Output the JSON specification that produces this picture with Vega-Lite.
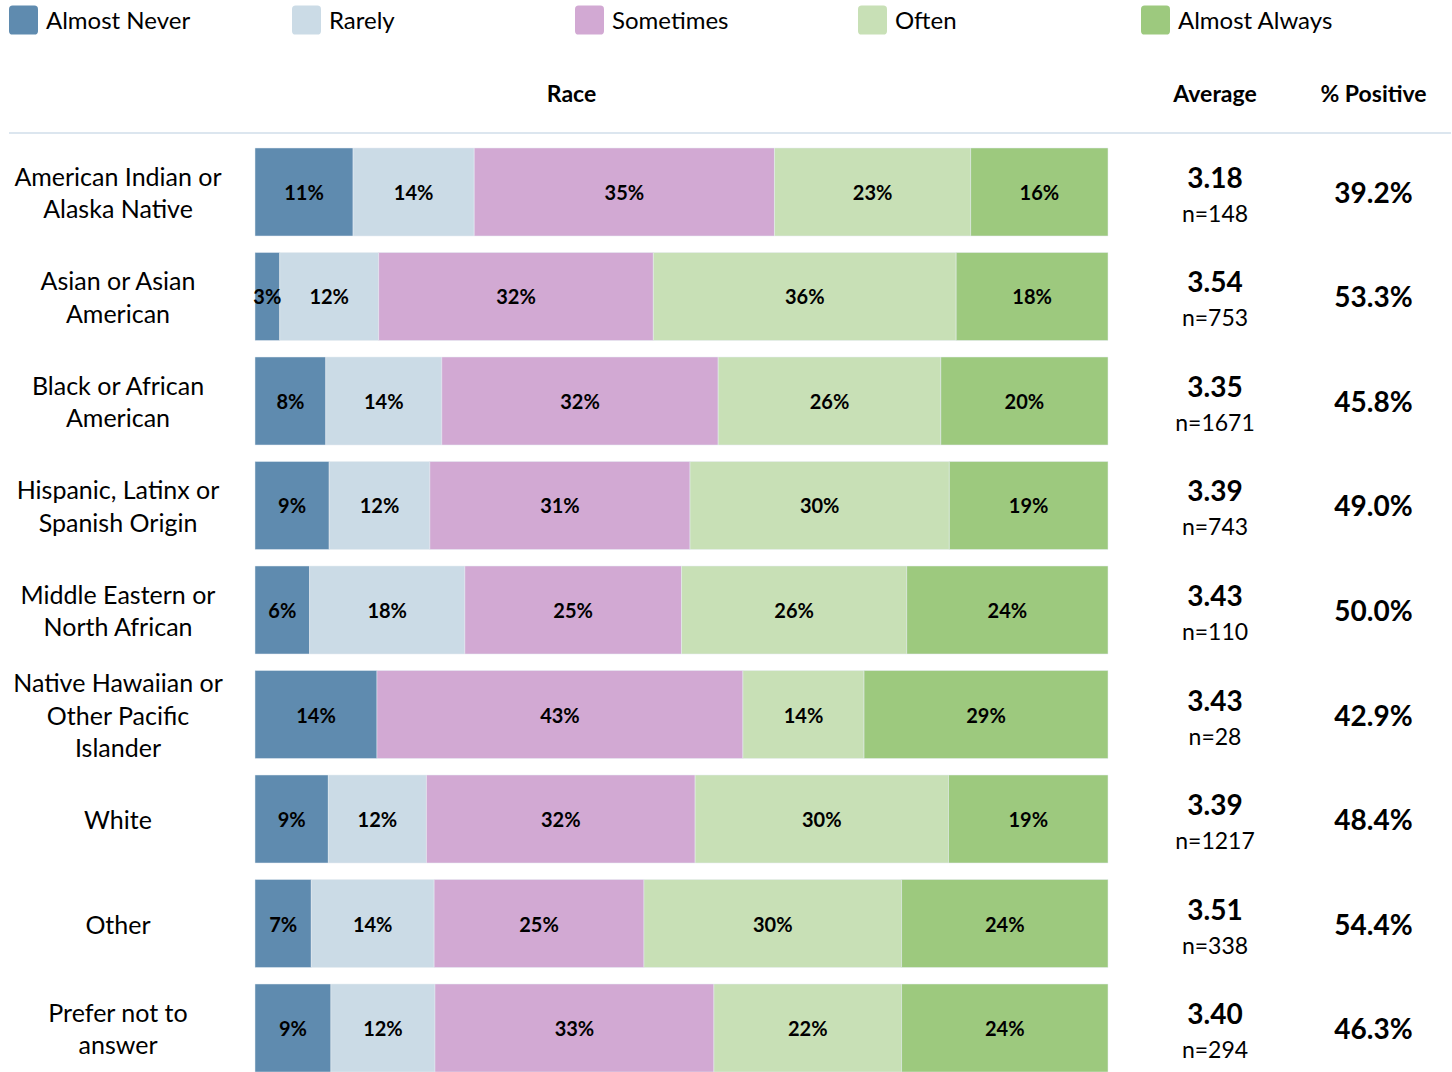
{
  "$schema": "https://vega.github.io/schema/vega-lite/v6.json",
  "padding": {"left": 8, "top": 0, "right": 0, "bottom": 0},
  "background": "white",
  "config": {
    "font": "Lato",
    "view": {"stroke": null},
    "title": {"fontSize": 23, "fontWeight": "bold", "color": "#000000", "offset": 25, "font": "Lato"},
    "text": {"font": "Lato", "color": "#000000"}
  },
  "datasets": {
    "categories": [
      {"response": "Almost Never"},
      {"response": "Rarely"},
      {"response": "Sometimes"},
      {"response": "Often"},
      {"response": "Almost Always"}
    ],
    "responses": [
      {"race": "American Indian or Alaska Native", "response": "Almost Never", "rank": 1, "pct": 11.5, "label": "11%"},
      {"race": "American Indian or Alaska Native", "response": "Rarely", "rank": 2, "pct": 14.2, "label": "14%"},
      {"race": "American Indian or Alaska Native", "response": "Sometimes", "rank": 3, "pct": 35.2, "label": "35%"},
      {"race": "American Indian or Alaska Native", "response": "Often", "rank": 4, "pct": 23.0, "label": "23%"},
      {"race": "American Indian or Alaska Native", "response": "Almost Always", "rank": 5, "pct": 16.1, "label": "16%"},
      {"race": "Asian or Asian American", "response": "Almost Never", "rank": 1, "pct": 2.9, "label": "3%"},
      {"race": "Asian or Asian American", "response": "Rarely", "rank": 2, "pct": 11.6, "label": "12%"},
      {"race": "Asian or Asian American", "response": "Sometimes", "rank": 3, "pct": 32.2, "label": "32%"},
      {"race": "Asian or Asian American", "response": "Often", "rank": 4, "pct": 35.5, "label": "36%"},
      {"race": "Asian or Asian American", "response": "Almost Always", "rank": 5, "pct": 17.8, "label": "18%"},
      {"race": "Black or African American", "response": "Almost Never", "rank": 1, "pct": 8.3, "label": "8%"},
      {"race": "Black or African American", "response": "Rarely", "rank": 2, "pct": 13.6, "label": "14%"},
      {"race": "Black or African American", "response": "Sometimes", "rank": 3, "pct": 32.4, "label": "32%"},
      {"race": "Black or African American", "response": "Often", "rank": 4, "pct": 26.1, "label": "26%"},
      {"race": "Black or African American", "response": "Almost Always", "rank": 5, "pct": 19.6, "label": "20%"},
      {"race": "Hispanic, Latinx or Spanish Origin", "response": "Almost Never", "rank": 1, "pct": 8.7, "label": "9%"},
      {"race": "Hispanic, Latinx or Spanish Origin", "response": "Rarely", "rank": 2, "pct": 11.8, "label": "12%"},
      {"race": "Hispanic, Latinx or Spanish Origin", "response": "Sometimes", "rank": 3, "pct": 30.5, "label": "31%"},
      {"race": "Hispanic, Latinx or Spanish Origin", "response": "Often", "rank": 4, "pct": 30.4, "label": "30%"},
      {"race": "Hispanic, Latinx or Spanish Origin", "response": "Almost Always", "rank": 5, "pct": 18.6, "label": "19%"},
      {"race": "Middle Eastern or North African", "response": "Almost Never", "rank": 1, "pct": 6.4, "label": "6%"},
      {"race": "Middle Eastern or North African", "response": "Rarely", "rank": 2, "pct": 18.2, "label": "18%"},
      {"race": "Middle Eastern or North African", "response": "Sometimes", "rank": 3, "pct": 25.4, "label": "25%"},
      {"race": "Middle Eastern or North African", "response": "Often", "rank": 4, "pct": 26.4, "label": "26%"},
      {"race": "Middle Eastern or North African", "response": "Almost Always", "rank": 5, "pct": 23.6, "label": "24%"},
      {"race": "Native Hawaiian or Other Pacific Islander", "response": "Almost Never", "rank": 1, "pct": 14.3, "label": "14%"},
      {"race": "Native Hawaiian or Other Pacific Islander", "response": "Sometimes", "rank": 3, "pct": 42.9, "label": "43%"},
      {"race": "Native Hawaiian or Other Pacific Islander", "response": "Often", "rank": 4, "pct": 14.2, "label": "14%"},
      {"race": "Native Hawaiian or Other Pacific Islander", "response": "Almost Always", "rank": 5, "pct": 28.6, "label": "29%"},
      {"race": "White", "response": "Almost Never", "rank": 1, "pct": 8.6, "label": "9%"},
      {"race": "White", "response": "Rarely", "rank": 2, "pct": 11.5, "label": "12%"},
      {"race": "White", "response": "Sometimes", "rank": 3, "pct": 31.5, "label": "32%"},
      {"race": "White", "response": "Often", "rank": 4, "pct": 29.7, "label": "30%"},
      {"race": "White", "response": "Almost Always", "rank": 5, "pct": 18.7, "label": "19%"},
      {"race": "Other", "response": "Almost Never", "rank": 1, "pct": 6.6, "label": "7%"},
      {"race": "Other", "response": "Rarely", "rank": 2, "pct": 14.4, "label": "14%"},
      {"race": "Other", "response": "Sometimes", "rank": 3, "pct": 24.6, "label": "25%"},
      {"race": "Other", "response": "Often", "rank": 4, "pct": 30.2, "label": "30%"},
      {"race": "Other", "response": "Almost Always", "rank": 5, "pct": 24.2, "label": "24%"},
      {"race": "Prefer not to answer", "response": "Almost Never", "rank": 1, "pct": 8.9, "label": "9%"},
      {"race": "Prefer not to answer", "response": "Rarely", "rank": 2, "pct": 12.2, "label": "12%"},
      {"race": "Prefer not to answer", "response": "Sometimes", "rank": 3, "pct": 32.7, "label": "33%"},
      {"race": "Prefer not to answer", "response": "Often", "rank": 4, "pct": 22.0, "label": "22%"},
      {"race": "Prefer not to answer", "response": "Almost Always", "rank": 5, "pct": 24.2, "label": "24%"}
    ],
    "summary": [
      {"race": "American Indian or Alaska Native", "lines": ["American Indian or", "Alaska Native"], "avg": 3.18, "nText": "n=148", "positive": 0.392},
      {"race": "Asian or Asian American", "lines": ["Asian or Asian", "American"], "avg": 3.54, "nText": "n=753", "positive": 0.533},
      {"race": "Black or African American", "lines": ["Black or African", "American"], "avg": 3.35, "nText": "n=1671", "positive": 0.458},
      {"race": "Hispanic, Latinx or Spanish Origin", "lines": ["Hispanic, Latinx or", "Spanish Origin"], "avg": 3.39, "nText": "n=743", "positive": 0.49},
      {"race": "Middle Eastern or North African", "lines": ["Middle Eastern or", "North African"], "avg": 3.43, "nText": "n=110", "positive": 0.5},
      {"race": "Native Hawaiian or Other Pacific Islander", "lines": ["Native Hawaiian or", "Other Pacific", "Islander"], "avg": 3.43, "nText": "n=28", "positive": 0.429},
      {"race": "White", "lines": ["White"], "avg": 3.39, "nText": "n=1217", "positive": 0.484},
      {"race": "Other", "lines": ["Other"], "avg": 3.51, "nText": "n=338", "positive": 0.544},
      {"race": "Prefer not to answer", "lines": ["Prefer not to", "answer"], "avg": 3.40, "nText": "n=294", "positive": 0.463}
    ]
  },
  "spacing": 44,
  "vconcat": [
    {
      "width": 1132,
      "height": 40,
      "data": {"name": "categories"},
      "layer": [
        {
          "mark": {"type": "point", "shape": "M -0.75,-1 H 0.75 Q 1,-1 1,-0.75 V 0.75 Q 1,1 0.75,1 H -0.75 Q -1,1 -1,0.75 V -0.75 Q -1,-1 -0.75,-1 Z", "filled": true, "opacity": 1, "size": 841, "xOffset": 14.5},
          "encoding": {
            "x": {"field": "response", "type": "nominal", "sort": null, "scale": {"type": "point", "padding": 0}, "axis": null},
            "color": {"field": "response", "type": "nominal", "scale": {"domain": ["Almost Never", "Rarely", "Sometimes", "Often", "Almost Always"], "range": ["#5f8baf", "#cbdbe6", "#d2a9d3", "#c8e0b6", "#9dc97e"]}, "legend": null}
          }
        },
        {
          "mark": {"type": "text", "align": "left", "baseline": "middle", "fontSize": 24, "xOffset": 37, "yOffset": 2},
          "encoding": {
            "x": {"field": "response", "type": "nominal", "sort": null, "scale": {"type": "point", "padding": 0}, "axis": null},
            "text": {"field": "response"}
          }
        }
      ]
    },
    {
      "spacing": 0,
      "bounds": "flush",
      "hconcat": [
        {
          "width": 246,
          "height": 954,
          "layer": [
            {
              "data": {"values": [{"h": 1}]},
              "mark": {"type": "rule", "color": "#dce6ef", "strokeWidth": 2},
              "encoding": {"y": {"value": 0}}
            },
            {
              "data": {"name": "summary"},
              "mark": {"type": "text", "fontSize": 25, "lineHeight": 32.5, "baseline": "middle", "align": "center", "dx": -14, "dy": {"expr": "2 - (length(datum.lines) - 1) * 16.25"}},
              "encoding": {
                "y": {"field": "race", "type": "nominal", "sort": null, "scale": {"type": "band", "paddingInner": 0.158, "paddingOuter": 0.1435}, "axis": null},
                "text": {"field": "lines"}
              }
            }
          ]
        },
        {
          "width": 853,
          "height": 954,
          "title": {"text": "Race", "dx": -110},
          "layer": [
            {
              "data": {"values": [{"h": 1}]},
              "mark": {"type": "rule", "color": "#dce6ef", "strokeWidth": 2},
              "encoding": {"y": {"value": 0}}
            },
            {
              "data": {"name": "responses"},
              "layer": [
                {
                  "mark": {"type": "bar", "stroke": "#e6edf3", "strokeWidth": 0.5},
                  "encoding": {
                    "y": {"field": "race", "type": "nominal", "sort": null, "scale": {"type": "band", "paddingInner": 0.158, "paddingOuter": 0.1435}, "axis": null},
                    "x": {"field": "pct", "type": "quantitative", "stack": "normalize", "scale": {"domain": [0, 1]}, "axis": null},
                    "order": {"field": "rank", "type": "quantitative"},
                    "color": {"field": "response", "type": "nominal", "scale": {"domain": ["Almost Never", "Rarely", "Sometimes", "Often", "Almost Always"], "range": ["#5f8baf", "#cbdbe6", "#d2a9d3", "#c8e0b6", "#9dc97e"]}, "legend": null}
                  }
                },
                {
                  "mark": {"type": "text", "fontSize": 20, "fontWeight": "bold", "baseline": "middle", "align": "center", "dy": 2},
                  "encoding": {
                    "y": {"field": "race", "type": "nominal", "sort": null, "scale": {"type": "band", "paddingInner": 0.158, "paddingOuter": 0.1435}, "axis": null},
                    "x": {"field": "pct", "type": "quantitative", "stack": "normalize", "bandPosition": 0.5, "scale": {"domain": [0, 1]}, "axis": null},
                    "order": {"field": "rank", "type": "quantitative"},
                    "detail": {"field": "response", "type": "nominal"},
                    "text": {"field": "label"}
                  }
                }
              ]
            }
          ]
        },
        {
          "width": 214,
          "height": 954,
          "title": {"text": "Average"},
          "layer": [
            {
              "data": {"values": [{"h": 1}]},
              "mark": {"type": "rule", "color": "#dce6ef", "strokeWidth": 2},
              "encoding": {"y": {"value": 0}}
            },
            {
              "data": {"name": "summary"},
              "layer": [
                {
                  "mark": {"type": "text", "fontSize": 28, "fontWeight": "bold", "baseline": "middle", "dy": -12},
                  "encoding": {
                    "y": {"field": "race", "type": "nominal", "sort": null, "scale": {"type": "band", "paddingInner": 0.158, "paddingOuter": 0.1435}, "axis": null},
                    "text": {"field": "avg", "type": "quantitative", "format": ".2f"}
                  }
                },
                {
                  "mark": {"type": "text", "fontSize": 23, "baseline": "middle", "dy": 23},
                  "encoding": {
                    "y": {"field": "race", "type": "nominal", "sort": null, "scale": {"type": "band", "paddingInner": 0.158, "paddingOuter": 0.1435}, "axis": null},
                    "text": {"field": "nText"}
                  }
                }
              ]
            }
          ]
        },
        {
          "width": 129,
          "height": 954,
          "title": {"text": "% Positive", "dx": -13},
          "layer": [
            {
              "data": {"values": [{"h": 1}]},
              "mark": {"type": "rule", "color": "#dce6ef", "strokeWidth": 2},
              "encoding": {"y": {"value": 0}}
            },
            {
              "data": {"name": "summary"},
              "mark": {"type": "text", "fontSize": 28, "fontWeight": "bold", "baseline": "middle", "dx": -13, "dy": 3},
              "encoding": {
                "y": {"field": "race", "type": "nominal", "sort": null, "scale": {"type": "band", "paddingInner": 0.158, "paddingOuter": 0.1435}, "axis": null},
                "text": {"field": "positive", "type": "quantitative", "format": ".1%"}
              }
            }
          ]
        }
      ]
    }
  ]
}
